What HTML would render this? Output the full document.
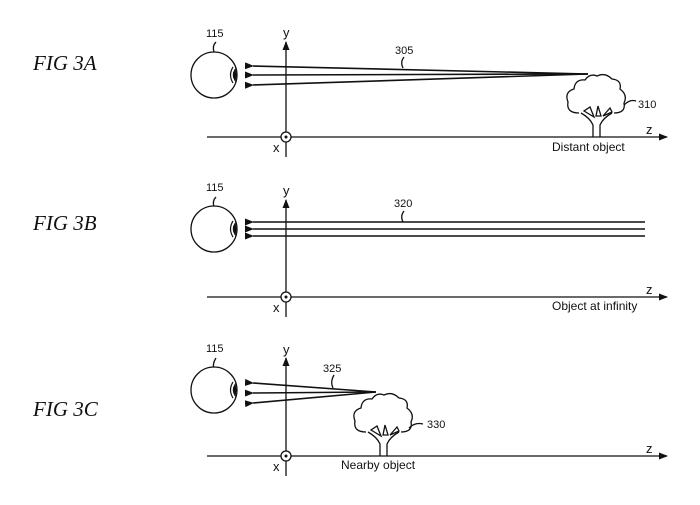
<!DOCTYPE html>
<html><head><style>
html,body{margin:0;padding:0;background:#fff;}
svg{display:block;}
text{font-family:"Liberation Sans",sans-serif;fill:#111;}
.fig{font-family:"Liberation Serif",serif;font-style:italic;font-size:21px;}
</style></head><body>
<svg width="700" height="505" viewBox="0 0 700 505" xmlns="http://www.w3.org/2000/svg">
<defs>
<marker id="ah" markerWidth="9" markerHeight="7" refX="1" refY="3.5" orient="auto" markerUnits="userSpaceOnUse">
<path d="M9,0 L0,3.5 L9,7 Z" fill="#111"/>
</marker>
<marker id="ar" markerWidth="9" markerHeight="7" refX="8" refY="3.5" orient="0" markerUnits="userSpaceOnUse">
<path d="M0,0 L9,3.5 L0,7 Z" fill="#111"/>
</marker>
<marker id="au" markerWidth="7" markerHeight="9" refX="3.5" refY="1" orient="0" markerUnits="userSpaceOnUse">
<path d="M0,9 L3.5,0 L7,9 Z" fill="#111"/>
</marker>
<g id="eye">
<circle cx="0" cy="0" r="23" fill="#fff" stroke="#111" stroke-width="1.3"/>
<path d="M19,-8 Q14,0 19,8" fill="none" stroke="#111" stroke-width="1.2"/>
<path d="M21,-5 Q18,0 21,5 L22,0 Z" fill="#111" stroke="#111" stroke-width="1.5"/>
</g>
<g id="tree" fill="none" stroke="#111" stroke-width="1.3">
<path d="M-4,0 L-4,-12 Q-7,-19 -16,-24 M3,0 L3,-12 Q6,-19 15,-24"/>
<path d="M-13,-26 L-3,-20 L-7,-30 Z M-1,-21 L1,-31 L4,-21 Z M6,-21 L13,-29 L15,-25 Z"/>
<path d="M-18,-24 Q-31,-24 -29,-35 Q-33,-45 -23,-48 Q-22,-58 -12,-57 Q-7,-64 0,-61 Q8,-65 15,-58 Q25,-57 23,-48 Q31,-42 27,-34 Q29,-24 17,-24"/>
</g>
</defs>

<text class="fig" x="33" y="70">FIG 3A</text>
<text class="fig" x="33" y="230">FIG 3B</text>
<text class="fig" x="33" y="416">FIG 3C</text>

<!-- Panel A -->
<g stroke="#111" stroke-width="1.3" fill="none">
<line x1="207" y1="137" x2="667" y2="137" marker-end="url(#ar)"/>
<line x1="286" y1="157" x2="286" y2="42" marker-end="url(#au)"/>
<line x1="588" y1="74" x2="253" y2="66" marker-end="url(#ah)" stroke-width="1.6"/>
<line x1="588" y1="74" x2="253" y2="75" marker-end="url(#ah)" stroke-width="1.6"/>
<line x1="588" y1="74" x2="253" y2="85" marker-end="url(#ah)" stroke-width="1.6"/>
<path d="M214,52 Q212,46 216,42" />
<path d="M403,68 Q400,62 404,57"/>
<path d="M624,105 Q630,99 636,101"/>
</g>
<circle cx="286" cy="137" r="5" fill="#fff" stroke="#111" stroke-width="1.3"/>
<circle cx="286" cy="137" r="1.5" fill="#111"/>
<use href="#eye" x="214" y="75"/>
<use href="#tree" x="597" y="137"/>
<text x="206" y="37" font-size="11">115</text>
<text x="283" y="37" font-size="13">y</text>
<text x="395" y="54" font-size="11">305</text>
<text x="638" y="108" font-size="11">310</text>
<text x="646" y="134" font-size="13">z</text>
<text x="273" y="152" font-size="13">x</text>
<text x="552" y="151" font-size="12">Distant object</text>

<!-- Panel B -->
<g stroke="#111" stroke-width="1.3" fill="none">
<line x1="207" y1="297" x2="667" y2="297" marker-end="url(#ar)"/>
<line x1="286" y1="317" x2="286" y2="200" marker-end="url(#au)"/>
<line x1="645" y1="222" x2="253" y2="222" marker-end="url(#ah)" stroke-width="1.6"/>
<line x1="645" y1="229" x2="253" y2="229" marker-end="url(#ah)" stroke-width="1.6"/>
<line x1="645" y1="236" x2="253" y2="236" marker-end="url(#ah)" stroke-width="1.6"/>
<path d="M214,207 Q212,201 216,197"/>
<path d="M403,222 Q400,216 404,211"/>
</g>
<circle cx="286" cy="297" r="5" fill="#fff" stroke="#111" stroke-width="1.3"/>
<circle cx="286" cy="297" r="1.5" fill="#111"/>
<use href="#eye" x="214" y="229"/>
<text x="206" y="191" font-size="11">115</text>
<text x="283" y="195" font-size="13">y</text>
<text x="394" y="207" font-size="11">320</text>
<text x="646" y="294" font-size="13">z</text>
<text x="273" y="312" font-size="13">x</text>
<text x="552" y="310" font-size="12">Object at infinity</text>

<!-- Panel C -->
<g stroke="#111" stroke-width="1.3" fill="none">
<line x1="207" y1="456" x2="667" y2="456" marker-end="url(#ar)"/>
<line x1="286" y1="476" x2="286" y2="358" marker-end="url(#au)"/>
<line x1="376" y1="392" x2="253" y2="383" marker-end="url(#ah)" stroke-width="1.6"/>
<line x1="376" y1="392" x2="253" y2="393" marker-end="url(#ah)" stroke-width="1.6"/>
<line x1="376" y1="392" x2="253" y2="403" marker-end="url(#ah)" stroke-width="1.6"/>
<path d="M214,370 Q212,364 216,358"/>
<path d="M333,388 Q330,382 334,375"/>
<path d="M409,428 Q415,422 423,424"/>
</g>
<circle cx="286" cy="456" r="5" fill="#fff" stroke="#111" stroke-width="1.3"/>
<circle cx="286" cy="456" r="1.5" fill="#111"/>
<use href="#eye" x="214" y="390"/>
<use href="#tree" x="384" y="456"/>
<text x="206" y="352" font-size="11">115</text>
<text x="283" y="354" font-size="13">y</text>
<text x="323" y="372" font-size="11">325</text>
<text x="427" y="428" font-size="11">330</text>
<text x="646" y="453" font-size="13">z</text>
<text x="273" y="471" font-size="13">x</text>
<text x="341" y="469" font-size="12">Nearby object</text>
</svg>
</body></html>
